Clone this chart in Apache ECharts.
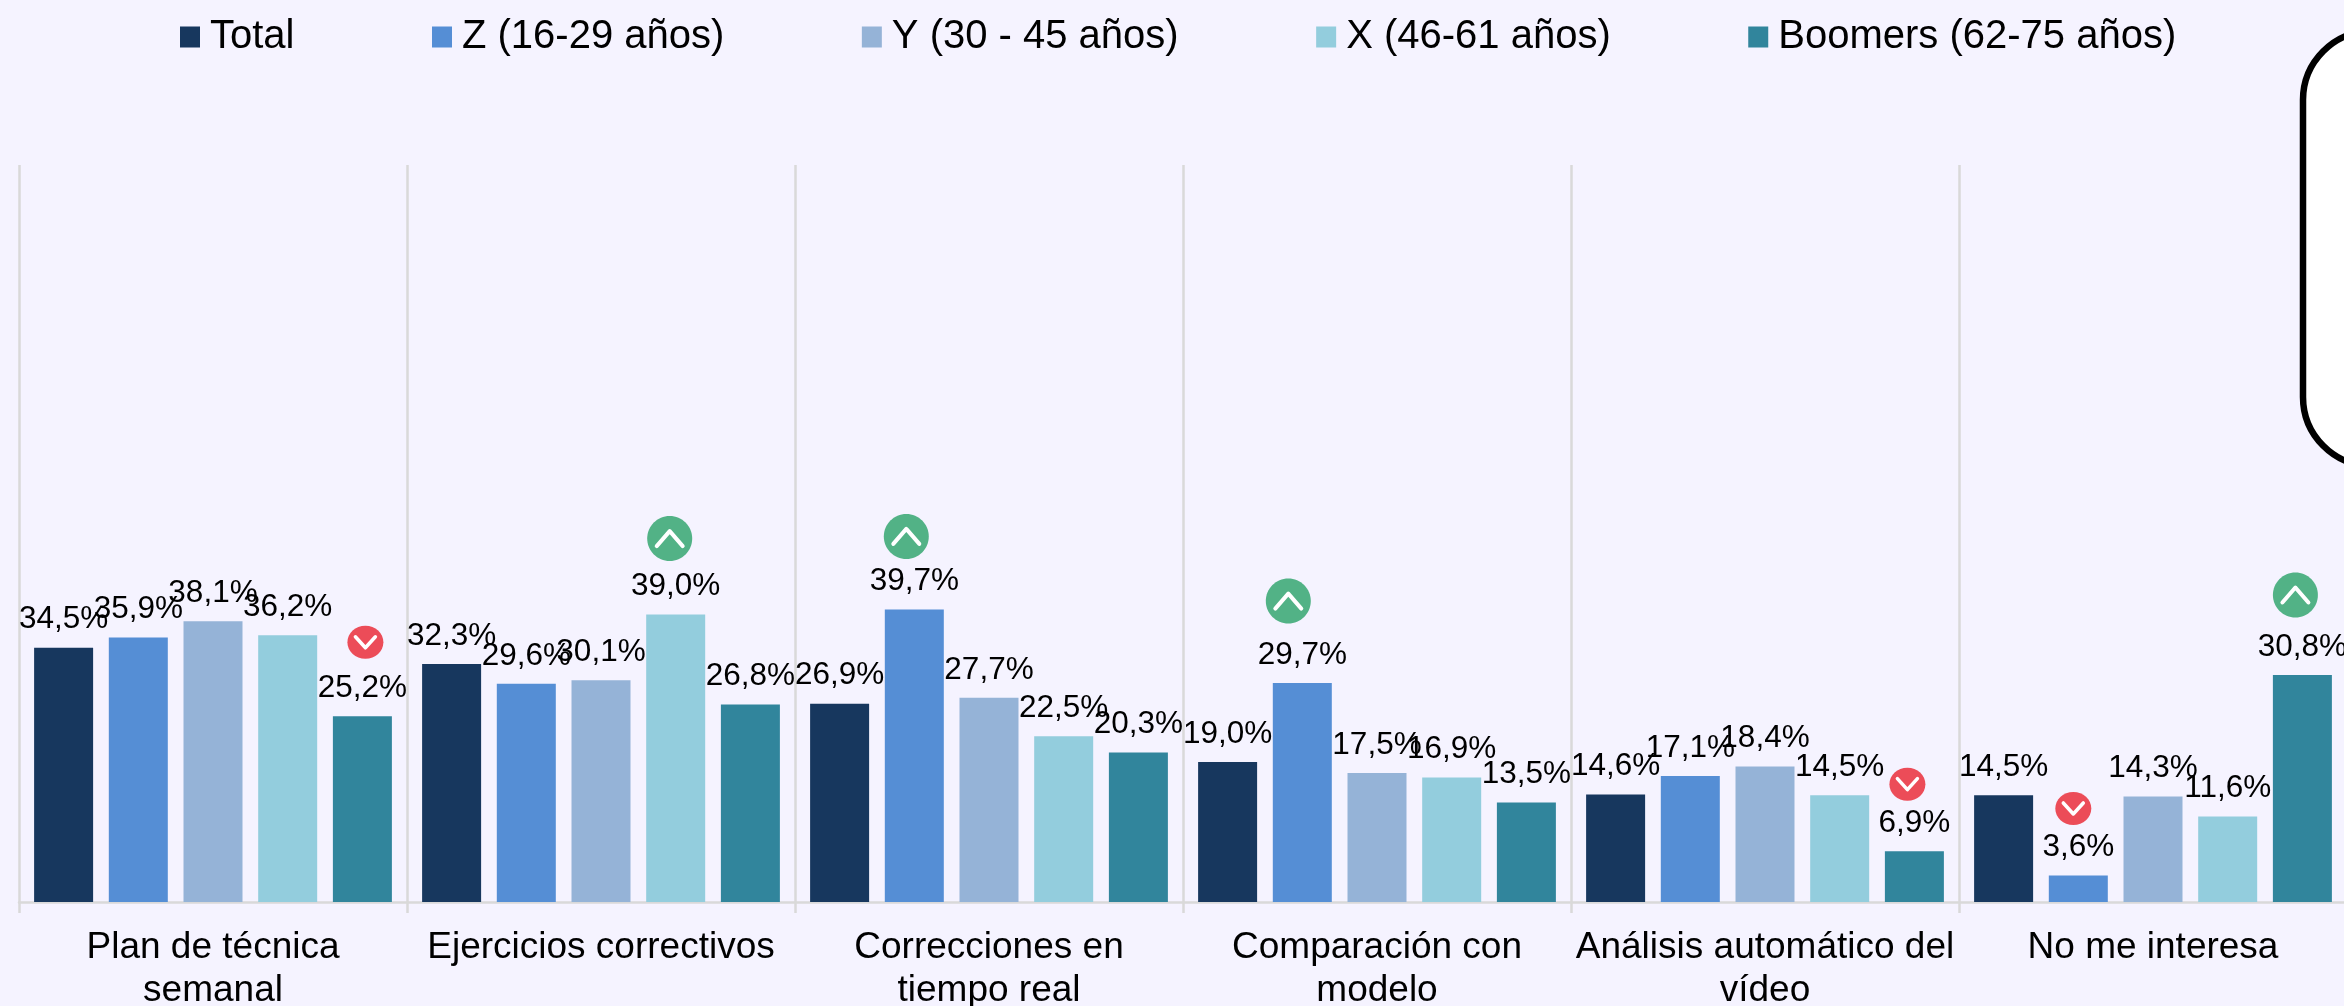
<!DOCTYPE html>
<html><head><meta charset="utf-8">
<style>html,body{margin:0;padding:0;background:#f5f3ff}#c{width:2344px;height:1006px}</style>
<script src="https://cdn.jsdelivr.net/npm/echarts@6/dist/echarts.min.js"></script>
</head><body><div id="c"></div>
<script>
const categories = ['Plan de técnica\nsemanal','Ejercicios correctivos','Correcciones en\ntiempo real','Comparación con\nmodelo','Análisis automático del\nvídeo','No me interesa'];
const seriesNames = ['Total','Z (16-29 años)','Y (30 - 45 años)','X (46-61 años)','Boomers (62-75 años)'];
const total = [34.5,32.3,26.9,19.0,14.6,14.5];
const genZ = [35.9,29.6,39.7,29.7,17.1,3.6];
const genY = [38.1,30.1,27.7,17.5,18.4,14.3];
const genX = [36.2,39.0,22.5,16.9,14.5,11.6];
const boomers = [25.2,26.8,20.3,13.5,6.9,30.8];
// badges: category index, series index, direction
const badgeCategory = [0,1,2,3,4,5,5];
const badgeSeries = [4,3,1,1,4,1,4];
const badgeDirection = ['down','up','up','up','down','down','up'];

const values = [total,genZ,genY,genX,boomers];
const colors = ['#17375e','#558ed5','#95b3d7','#93cddd','#31859c'];
const FONT = '"Liberation Sans", Arial, sans-serif';
const barW = 59, pitch = 74.7;
// pixel nudges of each badge relative to the top centre of its bar
const badgeDx = [3,-6,-8,-14,-7,-5,-7];
const badgeDy = [74,76,73,82,67,67,80];

const chart = echarts.init(document.getElementById('c'), null, {renderer:'canvas'});
const barSeries = seriesNames.map((name,i)=>({
  name, type:'bar', data: values[i], barWidth: barW, barGap:'26.6%',
  itemStyle:{color:colors[i]},
  label:{show:true, position:'top', distance:12, fontFamily:FONT, fontSize:31.5, color:'#000',
    formatter:p=>p.value.toFixed(1).replace('.',',')+'%'}
}));
const badgeData = badgeCategory.map((c,i)=>[c, values[badgeSeries[i]][c], badgeSeries[i], i]);
const badgeSeriesOpt = {
  type:'custom', silent:true, z:5, legendHoverLink:false, data: badgeData,
  encode:{x:0,y:1},
  renderItem:(params,api)=>{
    const i = api.value(3), s = api.value(2);
    const pt = api.coord([api.value(0), api.value(1)]);
    const up = badgeDirection[i]==='up';
    const cx = pt[0] + (s-2)*pitch + badgeDx[i];
    const cy = pt[1] - badgeDy[i];
    const rx = up?22.5:18, ry = up?22.5:16.5;
    const a = up?13:10, b = up?7.5:5.5;
    const pts = up ? [[cx-a,cy+b],[cx,cy-b],[cx+a,cy+b]] : [[cx-a,cy-b],[cx,cy+b],[cx+a,cy-b]];
    return {type:'group', children:[
      {type:'ellipse', shape:{cx,cy,rx,ry}, style:{fill: up?'#52b286':'#ec4c58'}},
      {type:'polyline', shape:{points:pts}, style:{fill:null, stroke:'#fff', lineWidth:up?4:3.5, lineCap:'round', lineJoin:'round'}}
    ]};
  }
};
chart.setOption({
  animation:false,
  backgroundColor:'#f5f3ff',
  textStyle:{fontFamily:FONT},
  legend:{show:true, left:175, top:12, data:seriesNames, icon:'rect', itemWidth:20, itemHeight:21, itemGap:137.5,
    selectedMode:false, textStyle:{fontFamily:FONT, fontSize:40, color:'#000', padding:[0,0,0,5]}},
  grid:{left:19, right:-3, top:165, bottom:104, outerBoundsMode:'none'},
  xAxis:{type:'category', data:categories, boundaryGap:true,
    axisLine:{lineStyle:{color:'#d9d9d9',width:2.5}},
    axisTick:{show:true, length:11, lineStyle:{color:'#d9d9d9',width:2.5}},
    splitLine:{show:true, lineStyle:{color:'#d9d9d9',width:2.5}},
    axisLabel:{interval:0, fontFamily:FONT, fontSize:37, color:'#000', margin:24, lineHeight:43}},
  yAxis:{type:'value', min:0, max:100, show:false, splitLine:{show:false}},
  series:[...barSeries, badgeSeriesOpt],
  graphic:[{type:'rect', shape:{x:2303,y:31,width:140,height:435,r:69}, z:10,
    style:{fill:'#fff', stroke:'#000', lineWidth:6.5}}]
});
</script></body></html>
